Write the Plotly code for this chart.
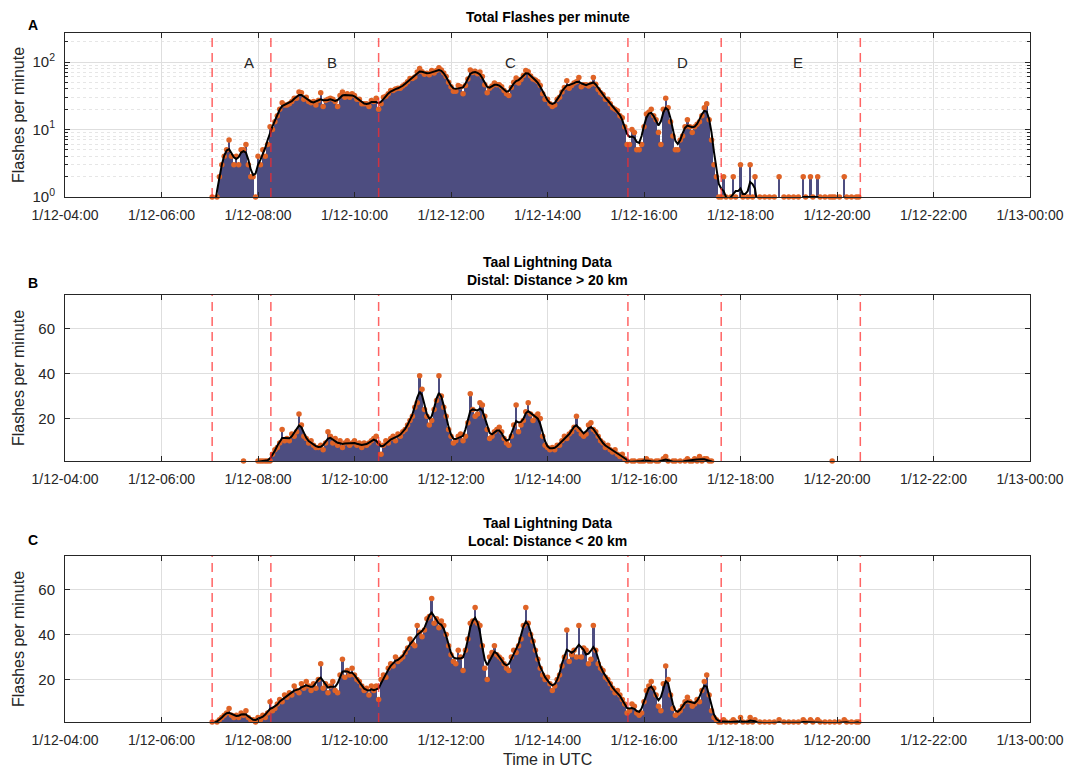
import numpy as np
import pandas as pd
import plotly.graph_objects as go

# Flashes per minute, sampled every 3 minutes from 1/12 07:00 UTC (one row per hour)
local_flashes = [
    0, 1, 0, 1, 2, 3, 4, 5, 7, 4, 3, 4, 3, 5, 4, 6, 3, 2, 2, 1,              # 07
    3, 2, 4, 3, 5, 10, 6, 7, 9, 11, 10, 13, 12, 14, 13, 17, 15, 14, 18, 16,  # 08
    19, 17, 15, 18, 16, 20, 27, 16, 18, 14, 17, 19, 15, 14, 22, 29, 21, 24, 22, 25,  # 09
    22, 20, 19, 17, 15, 16, 13, 17, 15, 17, 11, 20, 22, 21, 25, 27, 26, 30, 28, 29,  # 10
    30, 32, 34, 38, 36, 35, 44, 41, 39, 42, 47, 48, 56, 45, 47, 43, 46, 44, 40, 35,  # 11
    31, 28, 27, 33, 30, 24, 33, 38, 45, 46, 52, 45, 44, 35, 25, 20, 30, 32, 35, 31,  # 12
    30, 29, 27, 25, 24, 30, 33, 32, 35, 38, 44, 52, 45, 40, 37, 33, 29, 25, 22, 20,  # 13
    21, 18, 15, 17, 20, 22, 26, 30, 42, 28, 31, 33, 30, 44, 30, 34, 33, 27, 29, 44,  # 14
    33, 27, 25, 24, 21, 20, 18, 16, 14, 15, 13, 11, 9, 5, 6, 9, 8, 5, 4, 5,  # 15
    10, 15, 17, 19, 16, 13, 8, 6, 18, 26, 20, 13, 7, 4, 5, 6, 8, 10, 12, 10,  # 16
    8, 9, 11, 10, 15, 19, 22, 13, 6, 3, 2, 1, 1, 2, 1, 0, 1, 2, 1, 0,        # 17
    3, 1, 0, 1, 3, 1, 2, 0, 1, 0, 1, 0, 1, 0, 1, 0, 2, 0, 1, 0,              # 18
    1, 0, 1, 0, 1, 0, 2, 1, 0, 2, 1, 0, 2, 1, 0, 1, 0, 1, 0, 1,              # 19
    0, 1, 0, 2, 1, 0, 1, 0, 1, 1,                                            # 20
]

distal_flashes = [
    0, 0, 0, 0, 0, 0, 0, 0, 0, 0, 0, 0, 0, 0, 1, 0, 0, 0, 0, 0,              # 07
    1, 1, 1, 1, 1, 1, 4, 6, 7, 9, 15, 10, 11, 10, 13, 12, 14, 22, 17, 12,    # 08
    11, 9, 10, 8, 7, 7, 8, 6, 9, 14, 12, 9, 11, 8, 10, 7, 9, 10, 8, 9,       # 09
    10, 8, 9, 7, 9, 8, 9, 10, 11, 12, 9, 4, 8, 10, 9, 11, 12, 10, 13, 12,    # 10
    14, 15, 17, 19, 21, 25, 27, 39, 33, 24, 21, 17, 19, 24, 28, 39, 30, 25, 21, 15,  # 11
    12, 9, 10, 12, 13, 10, 12, 18, 31, 24, 21, 22, 27, 26, 21, 15, 11, 12, 14, 15,  # 12
    16, 14, 11, 9, 8, 12, 17, 26, 14, 17, 19, 23, 27, 22, 19, 21, 22, 20, 12, 8,   # 13
    7, 6, 7, 6, 8, 8, 10, 12, 11, 13, 14, 16, 21, 15, 13, 12, 13, 17, 18, 15,      # 14
    14, 12, 10, 9, 7, 8, 6, 5, 6, 4, 3, 4, 2, 1, 0, 1, 1, 0, 1, 1,           # 15
    1, 2, 1, 1, 0, 1, 1, 0, 2, 3, 1, 0, 1, 1, 0, 1, 0, 1, 2, 1,              # 16
    1, 2, 1, 3, 1, 2, 2, 1, 1, 0, 0, 0, 0, 0, 0, 0, 0, 0, 0, 0,              # 17
    0, 0, 0, 0, 0, 0, 0, 0, 0, 0, 0, 0, 0, 0, 0, 0, 0, 0, 0, 0,              # 18
    0, 0, 0, 0, 0, 0, 0, 0, 0, 0, 0, 0, 0, 0, 0, 0, 0, 0, 1, 0,              # 19
    0, 0, 0, 0, 0, 0, 0, 0, 0, 0,                                            # 20
]

sample_start = "2020-01-12 07:00"
sample_step = "3min"

# Eruption phase boundaries (UTC) and their names
phase_bounds = ["2020-01-12 07:03", "2020-01-12 08:16", "2020-01-12 10:30",
                "2020-01-12 15:40", "2020-01-12 17:36", "2020-01-12 20:29"]
phase_names = ["A", "B", "C", "D", "E"]

panel_letters = ["A", "B", "C"]
panel_titles = ["Total Flashes per minute",
                "Taal Lightning Data<br>Distal: Distance &gt; 20 km",
                "Taal Lightning Data<br>Local: Distance &lt; 20 km"]
x_range = ["2020-01-12 04:00", "2020-01-13 00:00"]
log_tick_vals = [1, 10, 100]
log_tick_text = ["10<sup>0</sup>", "10<sup>1</sup>", "10<sup>2</sup>"]
lin_tick_vals = [20, 40, 60]

times = pd.date_range(sample_start, periods=len(local_flashes), freq=sample_step)
local = np.array(local_flashes, dtype=float)
distal = np.array(distal_flashes, dtype=float)
total = distal + local
series = [total, distal, local]

# triangular moving average for the trend line
tri = np.array([1, 2, 3, 2, 1], dtype=float)


def trend(v):
    num = np.convolve(v, tri, mode="same")
    den = np.convolve(np.ones_like(v), tri, mode="same")
    return num / den


STEM = "#4D4D80"
DOT = "#DF6326"
GRID = "#DEDEDE"
AX = "#262626"
FONT = "Liberation Sans, Arial, Helvetica, sans-serif"
W, H = 1074, 770

# panel boxes in pixels: (top, bottom)
boxes = [(33, 197), (295, 461), (556, 722)]
title_mid = [17, 271, 532]
letter_y = [25, 283, 540]
x_dom = [65 / W, 1030 / W]

fig = go.Figure()
bar_width_ms = pd.Timedelta(sample_step).total_seconds() * 1000

for i, vals in enumerate(series):
    xa = "x" if i == 0 else f"x{i + 1}"
    ya = "y" if i == 0 else f"y{i + 1}"
    smooth = trend(vals)
    shown = np.where(vals >= 1, vals, np.nan)
    if i == 0:
        smooth = np.where(smooth > 0, smooth, np.nan)
    fig.add_trace(go.Bar(x=times, y=shown, width=bar_width_ms, marker=dict(color=STEM, line=dict(width=0)),
                         xaxis=xa, yaxis=ya, showlegend=False, hoverinfo="skip"))
    fig.add_trace(go.Scatter(x=times, y=shown, mode="markers", marker=dict(color=DOT, size=5.5),
                             cliponaxis=False, xaxis=xa, yaxis=ya, showlegend=False))
    fig.add_trace(go.Scatter(x=times, y=smooth, mode="lines", line=dict(color="black", width=2),
                             xaxis=xa, yaxis=ya, showlegend=False))

layout = dict(width=W, height=H, margin=dict(l=0, r=0, t=0, b=0, autoexpand=False),
              paper_bgcolor="white", plot_bgcolor="white", showlegend=False,
              font=dict(family=FONT, color=AX, size=14), bargap=0, barmode="overlay")

shapes, annotations = [], []
for i, (top, bot) in enumerate(boxes):
    sfx = "" if i == 0 else str(i + 1)
    layout["xaxis" + sfx] = dict(
        domain=x_dom, anchor="y" + sfx, type="date", range=x_range, automargin=False,
        tick0=x_range[0], dtick=2 * 3600 * 1000, tickformat="%-m/%d-%H:%M",
        ticks="inside", ticklen=5, tickcolor=AX, showline=True, linecolor=AX, linewidth=1,
        mirror="ticks", showgrid=True, gridcolor=GRID, zeroline=False,
        tickfont=dict(size=14, color=AX), ticklabelstandoff=5)
    ydict = dict(domain=[1 - bot / H, 1 - top / H], anchor="x" + sfx, automargin=False,
                 ticks="inside", ticklen=5, tickcolor=AX, showline=True, linecolor=AX, linewidth=1,
                 mirror="ticks", showgrid=True, gridcolor=GRID, zeroline=False,
                 tickfont=dict(size=15, color=AX), ticklabelstandoff=6)
    if i == 0:
        ydict.update(type="log", range=[0, 2.43], tickvals=log_tick_vals, ticktext=log_tick_text,
                     minor=dict(tickvals=[2, 3, 4, 5, 6, 7, 8, 9, 20, 30, 40, 50, 60, 70, 80, 90, 200],
                                ticks="inside", ticklen=3, tickcolor=AX,
                                showgrid=True, gridcolor="#E6E6E6", griddash="dot"))
    else:
        ydict.update(range=[1, 75], tickvals=lin_tick_vals)
    layout["yaxis" + sfx] = ydict

    for b in phase_bounds:
        shapes.append(dict(type="line", xref="x" + sfx, yref=f"y{sfx} domain", x0=b, x1=b, y0=0, y1=1,
                           line=dict(color="rgba(255,40,40,0.72)", width=1.5, dash="9px,6px"),
                           layer="above"))

    # panel title, letter and y label
    annotations.append(dict(text=f"<b>{panel_titles[i]}</b>", xref="paper", yref="paper",
                            x=(x_dom[0] + x_dom[1]) / 2, y=1 - title_mid[i] / H,
                            xanchor="center", yanchor="middle",
                            showarrow=False, font=dict(size=14, color="black")))
    annotations.append(dict(text=f"<b>{panel_letters[i]}</b>", xref="paper", yref="paper",
                            x=33 / W, y=1 - letter_y[i] / H,
                            xanchor="center", yanchor="middle", showarrow=False,
                            font=dict(size=14, color="black")))
    annotations.append(dict(text="Flashes per minute", xref="paper", yref="paper",
                            x=18 / W, y=1 - (top + bot) / 2 / H, textangle=-90,
                            xanchor="center", yanchor="middle", showarrow=False,
                            font=dict(size=16, color=AX)))

# phase names, left-aligned at each phase midpoint
bounds_ts = pd.to_datetime(phase_bounds)
for name, a, b in zip(phase_names, bounds_ts[:-1], bounds_ts[1:]):
    annotations.append(dict(text=name, xref="x", yref="y", x=a + (b - a) / 2, y=2,
                            xanchor="left", yanchor="middle", showarrow=False,
                            font=dict(size=15, color="#262626")))

annotations.append(dict(text="Time in UTC", xref="paper", yref="paper",
                        x=(x_dom[0] + x_dom[1]) / 2, y=1 - 759 / H, xanchor="center", yanchor="middle",
                        showarrow=False, font=dict(size=16, color=AX)))

layout["shapes"] = shapes
layout["annotations"] = annotations
fig.update_layout(**layout)
fig.write_html("out.html")
